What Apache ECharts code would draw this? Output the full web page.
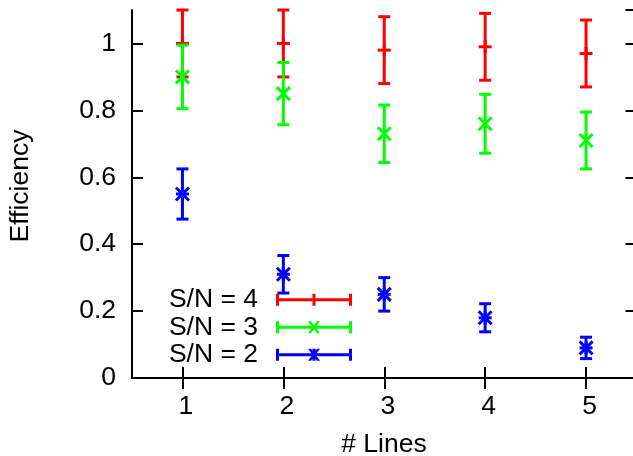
<!DOCTYPE html>
<html><head><meta charset="utf-8">
<script src="https://cdn.jsdelivr.net/npm/echarts@6/dist/echarts.min.js"></script>
<style>html,body{margin:0;padding:0;background:#fff}#c{width:633px;height:456px}</style>
</head><body><div id="c"></div>
<script>
// ---- data ----
const categories = ['1', '2', '3', '4', '5'];
const seriesNames = ['S/N = 4', 'S/N = 3', 'S/N = 2'];
const sn4Values = [1.00, 1.00, 0.98, 0.99, 0.97];
const sn4Errors = [0.10, 0.10, 0.10, 0.10, 0.10];
const sn3Values = [0.90, 0.85, 0.73, 0.76, 0.71];
const sn3Errors = [0.095, 0.093, 0.086, 0.088, 0.085];
const sn2Values = [0.55, 0.31, 0.25, 0.18, 0.09];
const sn2Errors = [0.075, 0.056, 0.050, 0.042, 0.032];
const yMin = 0, yMax = 1.1, yStep = 0.2;
const xTitle = '# Lines';
const yTitle = 'Efficiency';

const FONT = 'Liberation Sans, Arial, Helvetica, sans-serif';
const FS = 26.5;
const colors = ['#ff0000', '#00ff00', '#0000ff'];
const markers = ['plus', 'cross', 'star'];

function toData(vals, errs) { return vals.map((v, i) => [i, v, errs[i]]); }

function makeRender(marker) {
  return function (params, api) {
    const xi = api.value(0), v = api.value(1), e = api.value(2);
    const c = api.coord([xi, v]);
    const hi = api.coord([xi, v + e]);
    const lo = api.coord([xi, v - e]);
    const cs = params.coordSys;
    const color = api.visual('color');
    const style = { stroke: color, lineWidth: 3, fill: null };
    const top = Math.max(hi[1], cs.y);
    const bottom = Math.min(lo[1], cs.y + cs.height);
    const cap = 6, m = 6.5;
    const ch = [];
    ch.push({ type: 'line', shape: { x1: c[0], y1: top, x2: c[0], y2: bottom }, style });
    if (hi[1] >= cs.y - 0.5) ch.push({ type: 'line', shape: { x1: c[0] - cap, y1: hi[1], x2: c[0] + cap, y2: hi[1] }, style });
    if (lo[1] <= cs.y + cs.height + 0.5) ch.push({ type: 'line', shape: { x1: c[0] - cap, y1: lo[1], x2: c[0] + cap, y2: lo[1] }, style });
    if (marker === 'plus' || marker === 'star') {
      ch.push({ type: 'line', shape: { x1: c[0] - m, y1: c[1], x2: c[0] + m, y2: c[1] }, style });
      ch.push({ type: 'line', shape: { x1: c[0], y1: c[1] - m, x2: c[0], y2: c[1] + m }, style });
    }
    if (marker === 'cross' || marker === 'star') {
      ch.push({ type: 'line', shape: { x1: c[0] - m, y1: c[1] - m, x2: c[0] + m, y2: c[1] + m }, style });
      ch.push({ type: 'line', shape: { x1: c[0] - m, y1: c[1] + m, x2: c[0] + m, y2: c[1] - m }, style });
    }
    return { type: 'group', children: ch };
  };
}

// legend sample icons (76 x 12 box): horizontal error bar + marker
const base = 'M0 4.5 H76 V7.5 H0 Z M0 0 H3 V12 H0 Z M73 0 H76 V12 H73 Z';
const plusV = ' M36.5 0 H39.5 V12 H36.5 Z';
const crossP = ' M32 0 L35 0 L44 12 L41 12 Z M41 0 L44 0 L35 12 L32 12 Z';
const legendIcons = [
  'path://' + base + plusV,
  'path://' + base + crossP,
  'path://' + base + plusV + crossP
];

const allData = [toData(sn4Values, sn4Errors), toData(sn3Values, sn3Errors), toData(sn2Values, sn2Errors)];

const axisLineStyle = { color: '#000', width: 2 };
const tickStyle = { color: '#000', width: 2 };

const chart = echarts.init(document.getElementById('c'));
chart.setOption({
  animation: false,
  backgroundColor: '#fff',
  grid: { left: 132, top: 10, width: 504.5, height: 368, containLabel: false, outerBoundsMode: 'none' },
  xAxis: [{
    type: 'category', data: categories, position: 'bottom',
    axisLine: { show: true, lineStyle: axisLineStyle },
    axisTick: { show: true, inside: true, length: 11, alignWithLabel: true, lineStyle: tickStyle },
    axisLabel: { show: true, color: '#000', fontFamily: FONT, fontSize: FS, margin: 15, padding: [0, 0, 0, 7] },
    splitLine: { show: false }
  }, {
    type: 'category', data: categories, position: 'top',
    axisLine: { show: true, lineStyle: axisLineStyle },
    axisTick: { show: true, inside: true, length: 11, alignWithLabel: true, lineStyle: tickStyle },
    axisLabel: { show: false }, splitLine: { show: false }
  }],
  yAxis: [{
    type: 'value', min: yMin, max: yMax, interval: yStep, position: 'left',
    axisLine: { show: true, lineStyle: axisLineStyle },
    axisTick: { show: true, inside: true, length: 11, lineStyle: tickStyle },
    axisLabel: { show: true, color: '#000', fontFamily: FONT, fontSize: FS, margin: 16, showMaxLabel: false },
    splitLine: { show: false }
  }, {
    type: 'value', min: yMin, max: yMax, interval: yStep, position: 'right',
    axisLine: { show: true, lineStyle: axisLineStyle },
    axisTick: { show: true, inside: true, length: 11, lineStyle: tickStyle },
    axisLabel: { show: false }, splitLine: { show: false }
  }],
  legend: {
    orient: 'vertical', right: 281, top: 286.3, padding: 0, align: 'right',
    itemWidth: 76, itemHeight: 12, itemGap: 0.5,
    textStyle: { fontFamily: FONT, fontSize: FS, color: '#000', lineHeight: 26, padding: [0, 13, 0, 0] },
    itemStyle: { borderWidth: 0 },
    data: seriesNames.map((n, i) => ({ name: n, icon: legendIcons[i] }))
  },
  graphic: [
    { type: 'text', x: 21, y: 186, rotation: Math.PI / 2,
      style: { text: yTitle, fontFamily: FONT, fontSize: FS, fill: '#000', align: 'center', verticalAlign: 'middle' } },
    { type: 'text', x: 384, y: 444.5,
      style: { text: xTitle, fontFamily: FONT, fontSize: FS, fill: '#000', align: 'center', verticalAlign: 'middle' } }
  ],
  series: seriesNames.map((n, i) => ({
    name: n, type: 'custom', xAxisIndex: 0, yAxisIndex: 0,
    itemStyle: { color: colors[i] },
    encode: { x: 0, y: 1 },
    renderItem: makeRender(markers[i]),
    data: allData[i]
  }))
});
</script></body></html>
